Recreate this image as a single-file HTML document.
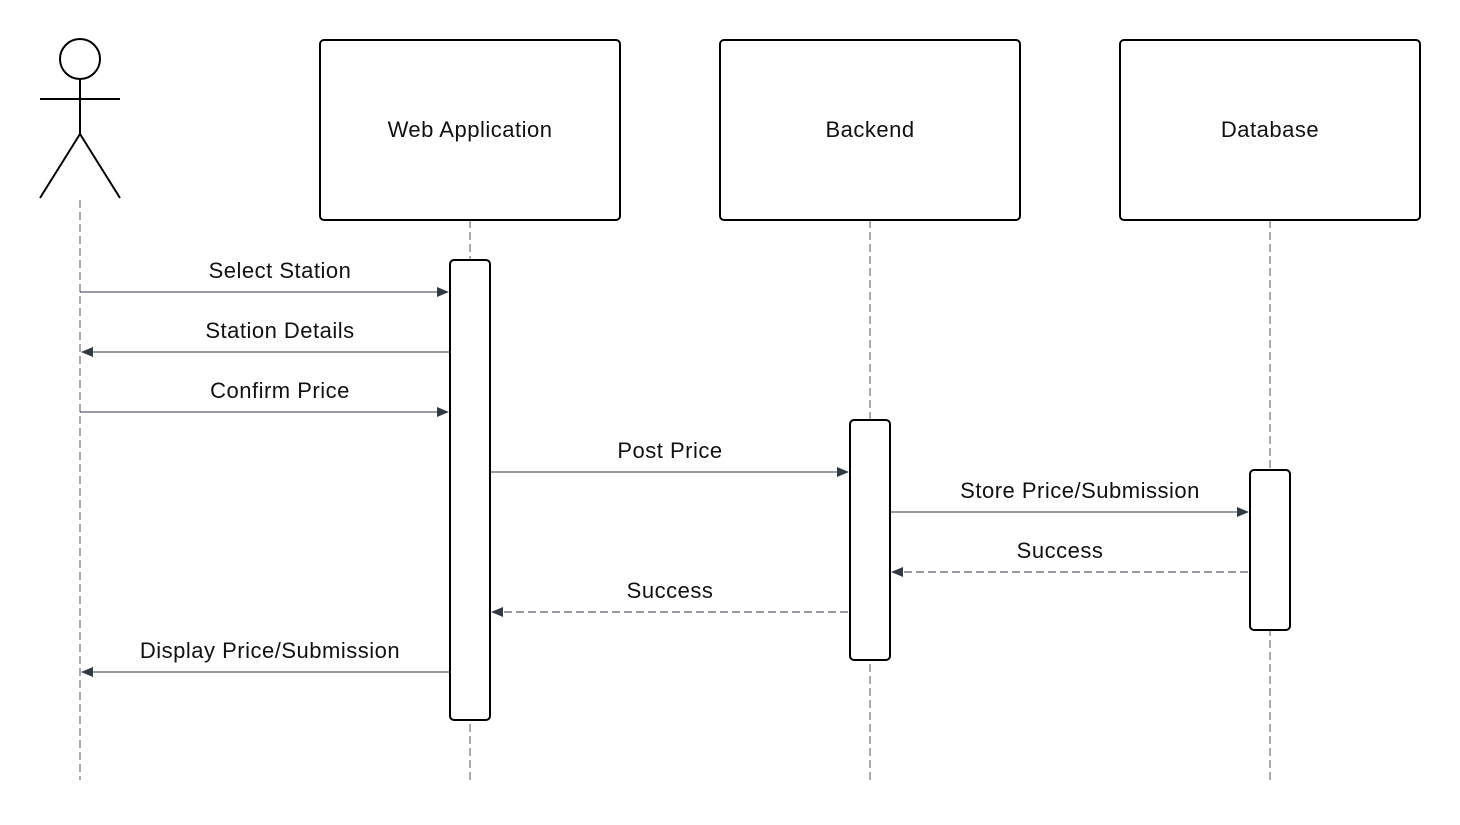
<!DOCTYPE html>
<html><head><meta charset="utf-8"><style>
html,body{margin:0;padding:0;background:#fff;}
svg text{font-family:"Liberation Sans",sans-serif;font-size:22px;letter-spacing:0.5px;fill:#111;text-anchor:middle;}
</style></head><body>
<svg width="1460" height="820" viewBox="0 0 1460 820" xmlns="http://www.w3.org/2000/svg">
<defs>
<marker id="a" markerWidth="12" markerHeight="10" refX="11" refY="5" orient="auto" markerUnits="userSpaceOnUse">
<path d="M0,0 L12,5 L0,10 z" fill="#333a44"/></marker>
</defs>
<g stroke="#555" stroke-width="1" stroke-dasharray="8,4" fill="none">
<line x1="80" y1="200" x2="80" y2="780"/>
<line x1="470" y1="220" x2="470" y2="780"/>
<line x1="870" y1="220" x2="870" y2="780"/>
<line x1="1270" y1="220" x2="1270" y2="780"/>
</g>
<g stroke="#000" stroke-width="2" fill="none">
<circle cx="80" cy="59" r="20"/>
<line x1="80" y1="79" x2="80" y2="134"/>
<line x1="40" y1="99" x2="120" y2="99"/>
<line x1="80" y1="134" x2="40" y2="198"/>
<line x1="80" y1="134" x2="120" y2="198"/>
<rect x="320" y="40" width="300" height="180" rx="4" fill="#fff"/>
<rect x="720" y="40" width="300" height="180" rx="4" fill="#fff"/>
<rect x="1120" y="40" width="300" height="180" rx="4" fill="#fff"/>
<rect x="450" y="260" width="40" height="460" rx="4" fill="#fff"/>
<rect x="850" y="420" width="40" height="240" rx="4" fill="#fff"/>
<rect x="1250" y="470" width="40" height="160" rx="4" fill="#fff"/>
</g>
<text x="470" y="137">Web Application</text>
<text x="870" y="137">Backend</text>
<text x="1270" y="137">Database</text>
<g stroke="#333a44" stroke-width="1" fill="none">
<line x1="80" y1="292" x2="448" y2="292" marker-end="url(#a)"/>
<line x1="450" y1="352" x2="82" y2="352" marker-end="url(#a)"/>
<line x1="80" y1="412" x2="448" y2="412" marker-end="url(#a)"/>
<line x1="490" y1="472" x2="848" y2="472" marker-end="url(#a)"/>
<line x1="890" y1="512" x2="1248" y2="512" marker-end="url(#a)"/>
<line x1="1248" y1="572" x2="892" y2="572" stroke-dasharray="8,4" marker-end="url(#a)"/>
<line x1="848" y1="612" x2="492" y2="612" stroke-dasharray="8,4" marker-end="url(#a)"/>
<line x1="450" y1="672" x2="82" y2="672" marker-end="url(#a)"/>
</g>
<text x="280" y="278">Select Station</text>
<text x="280" y="338">Station Details</text>
<text x="280" y="398">Confirm Price</text>
<text x="670" y="458">Post Price</text>
<text x="1080" y="498">Store Price/Submission</text>
<text x="1060" y="558">Success</text>
<text x="670" y="598">Success</text>
<text x="270" y="658">Display Price/Submission</text>
</svg>
</body></html>
